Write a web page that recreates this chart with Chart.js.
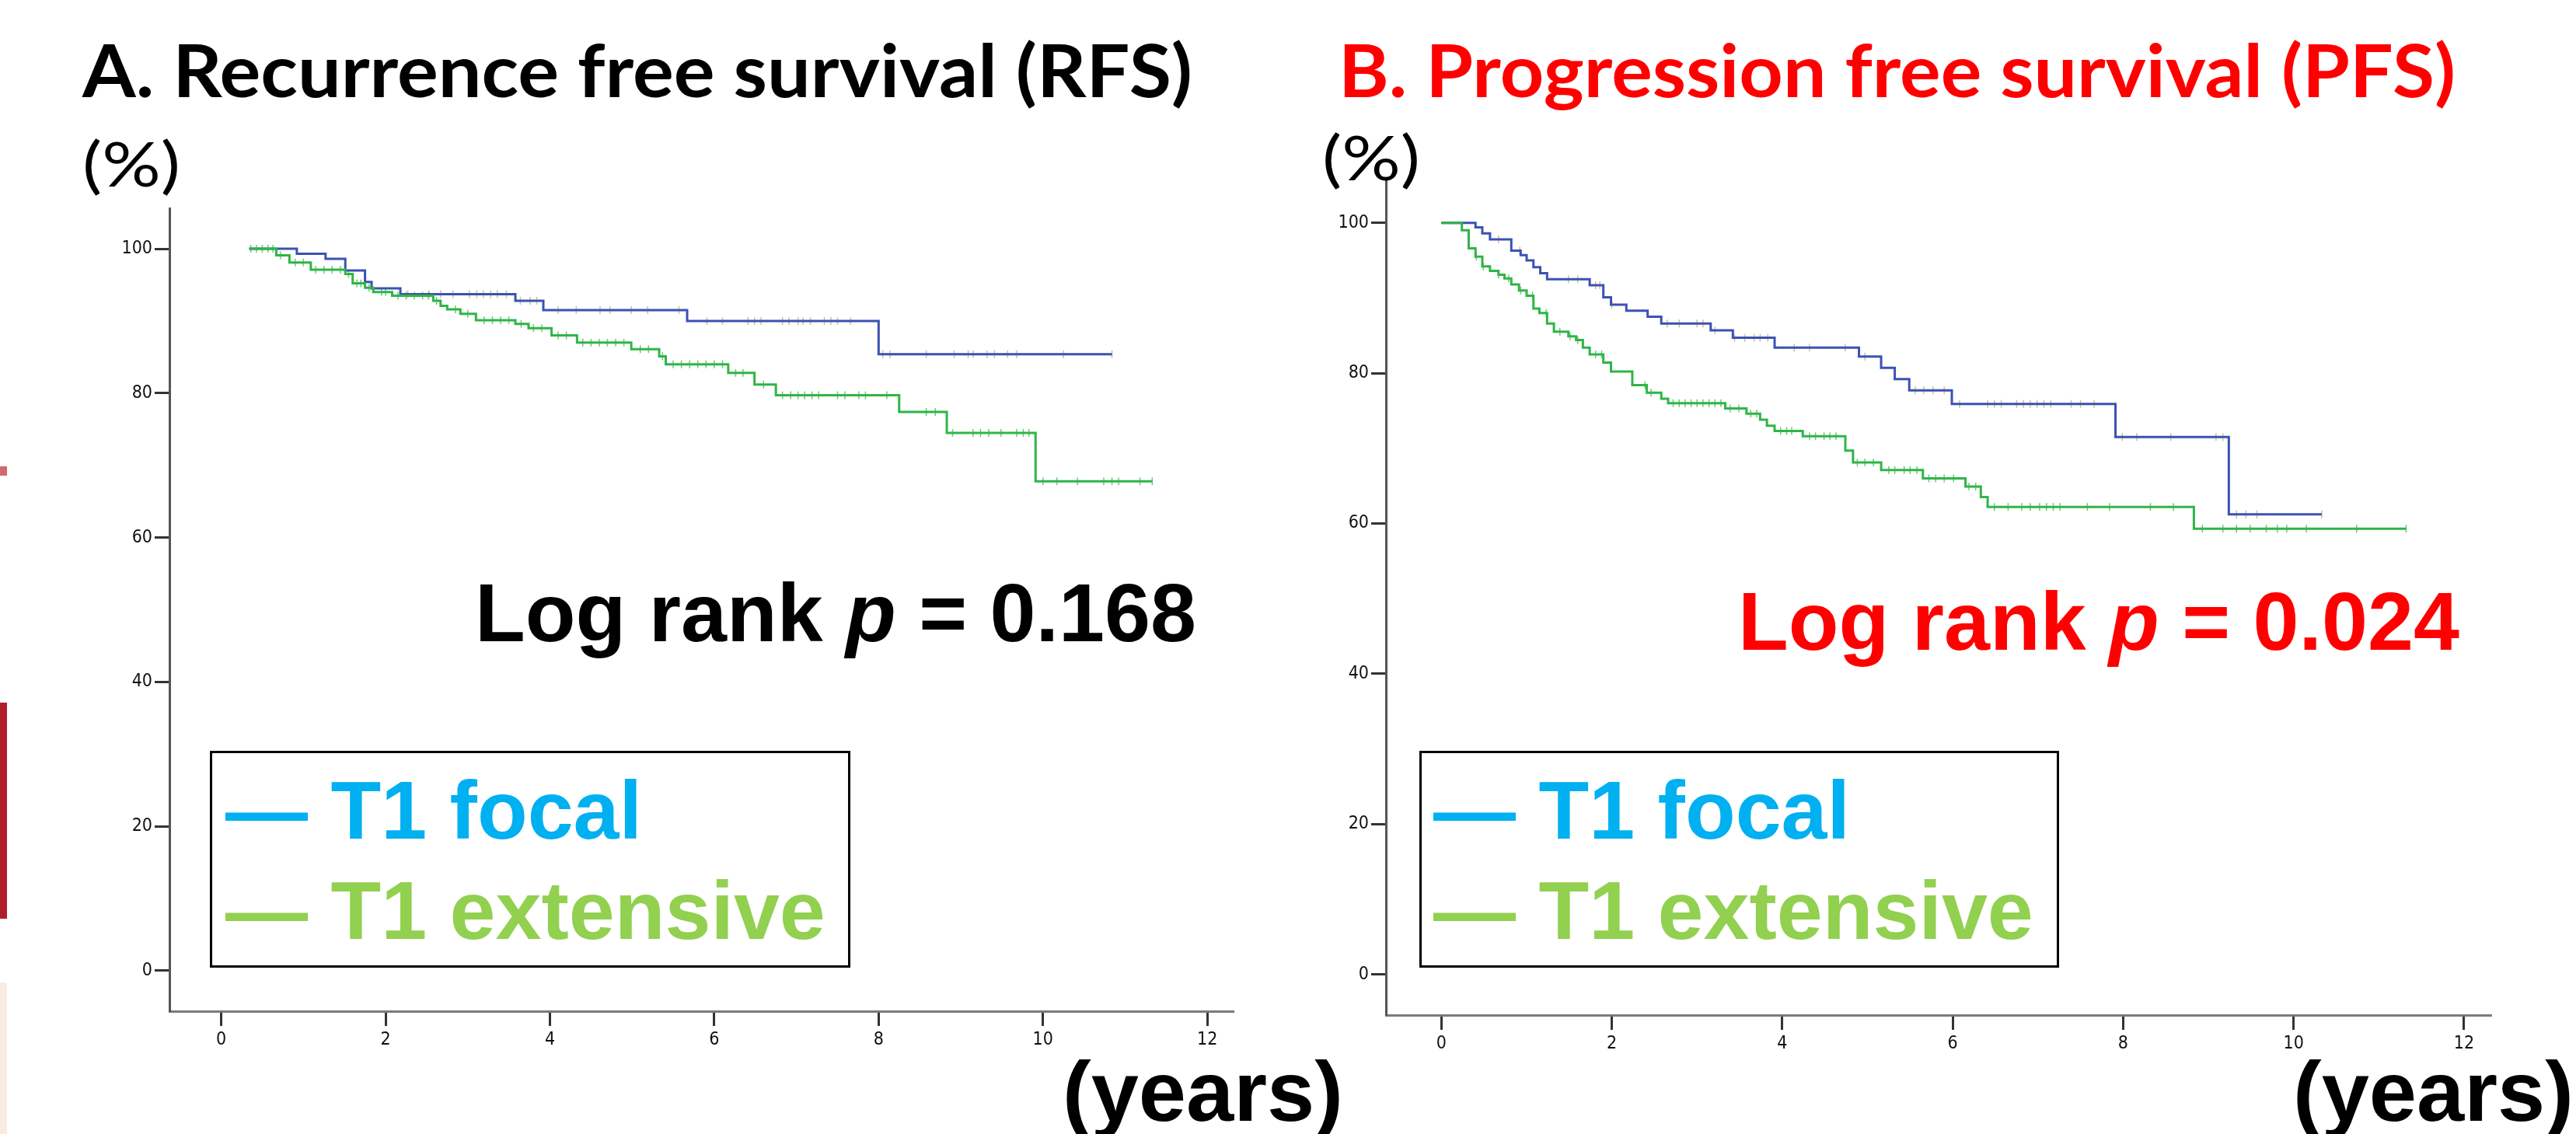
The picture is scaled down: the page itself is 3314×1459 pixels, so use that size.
<!DOCTYPE html>
<html>
<head>
<meta charset="utf-8">
<title>RFS / PFS by T1 substage</title>
<script src="https://cdn.jsdelivr.net/npm/chart.js@4.4.1/dist/chart.umd.min.js"></script>
<style>
  html, body { margin: 0; padding: 0; background: #fff; overflow: hidden; }
  #page { position: relative; width: 3314px; height: 1459px; overflow: hidden; background: #fff; }
  canvas { position: absolute; top: 150px; }
  .txt { position: absolute; white-space: nowrap; line-height: 1; transform-origin: 0 0; }
  .title { font-family: Lato, 'Open Sans', sans-serif; font-weight: 700; font-size: 94px; }
  .pct { font-family: Lato, 'Open Sans', sans-serif; font-weight: 400; font-size: 80px; }
  .arial { font-family: 'Liberation Sans', Arial, sans-serif; font-weight: 700; font-size: 106px; }
  .years { font-family: 'Liberation Sans', Arial, sans-serif; font-weight: 700; font-size: 110px; }
  .legend { position: absolute; border: 3px solid #000; box-sizing: border-box; background: #fff; }
  .strip { position: absolute; left: 0; width: 9px; }
</style>
</head>
<body>
<div id="page">
  <div class="strip" style="top:600px;height:12px;background:#d4686f"></div>
  <div class="strip" style="top:904px;height:278px;background:#b01e2b"></div>
  <div class="strip" style="top:1264px;height:195px;background:#faebe2"></div>

  <canvas id="chartA" width="1657" height="1250" style="left:0px"></canvas>
  <canvas id="chartB" width="1657" height="1250" style="left:1657px"></canvas>

  <div class="legend" style="left:270px;top:966px;width:824px;height:279px"></div>
  <div class="legend" style="left:1826px;top:966px;width:823px;height:279px"></div>
</div>

<script>
// 軸の目盛り
const yearTicks = [0, 2, 4, 6, 8, 10, 12];
const pctTicks = [0, 20, 40, 60, 80, 100];

// A. RFS - T1 focal (時間: 年, 生存率: %)
const rfsFocalTime = [0.34, 0.92, 1.27, 1.51, 1.75, 1.83, 2.18, 3.58, 3.92, 5.67, 8.00, 10.84];
const rfsFocalSurv = [100, 99.3, 98.6, 97.0, 95.4, 94.5, 93.7, 92.8, 91.5, 90.0, 85.4, 85.4];
const rfsFocalCens = [2.27, 2.53, 2.67, 2.82, 3.02, 3.11, 3.19, 3.28, 3.36, 3.47, 3.64, 3.76, 3.84,
  4.10, 4.32, 4.61, 4.73, 4.99, 5.19, 5.57, 5.91, 6.10, 6.41, 6.49, 6.57, 6.83, 6.91, 7.02, 7.08,
  7.17, 7.34, 7.42, 7.50, 7.66, 8.05, 8.14, 8.58, 8.92, 9.09, 9.15, 9.32, 9.41, 9.57, 9.68, 10.25, 10.84];

// A. RFS - T1 extensive
const rfsExtTime = [0.34, 0.67, 0.83, 1.09, 1.51, 1.60, 1.75, 1.85, 2.08, 2.58, 2.67, 2.75, 2.91, 3.10,
  3.58, 3.74, 4.02, 4.33, 4.99, 5.33, 5.41, 6.17, 6.49, 6.75, 8.25, 8.83, 9.91, 11.33];
const rfsExtSurv = [100, 99.1, 98.1, 97.1, 96.5, 95.2, 94.6, 94.0, 93.5, 92.8, 92.1, 91.6, 91.0, 90.1,
  89.6, 89.0, 88.0, 87.0, 86.1, 85.1, 84.0, 82.8, 81.2, 79.7, 77.4, 74.5, 67.8, 67.8];
const rfsExtCens = [0.36, 0.43, 0.50, 0.57, 0.63, 0.72, 0.90, 1.00, 1.15, 1.25, 1.35, 1.45, 1.55, 1.65,
  1.70, 1.80, 1.95, 2.00, 2.15, 2.25, 2.35, 2.45, 2.52, 2.62, 2.85, 3.00, 3.20, 3.30, 3.40, 3.50, 3.65,
  3.80, 3.90, 4.10, 4.20, 4.40, 4.50, 4.60, 4.70, 4.80, 4.90, 5.10, 5.20, 5.37, 5.50, 5.60, 5.70, 5.80,
  5.90, 6.00, 6.10, 6.26, 6.35, 6.60, 6.83, 6.93, 7.02, 7.10, 7.19, 7.27, 7.50, 7.59, 7.76, 7.84, 8.10,
  8.58, 8.69, 8.90, 9.15, 9.24, 9.34, 9.49, 9.68, 9.76, 9.83, 10.00, 10.17, 10.42, 10.74, 10.84, 10.92,
  11.18, 11.33];

// B. PFS - T1 focal
const pfsFocalTime = [0, 0.40, 0.48, 0.57, 0.82, 0.93, 1.00, 1.08, 1.16, 1.24, 1.74, 1.90, 1.99, 2.17,
  2.42, 2.58, 3.16, 3.42, 3.91, 4.90, 5.16, 5.32, 5.49, 5.99, 7.91, 9.24, 10.33];
const pfsFocalSurv = [100, 99.4, 98.6, 97.8, 96.3, 95.7, 95.0, 94.1, 93.3, 92.5, 91.7, 90.1, 89.1, 88.3,
  87.5, 86.6, 85.7, 84.7, 83.4, 82.2, 80.7, 79.2, 77.7, 75.9, 71.5, 61.2, 61.2];
const pfsFocalCens = [0.67, 0.92, 1.49, 1.60, 1.81, 1.86, 2.00, 2.65, 2.79, 3.00, 3.07, 3.21, 3.44, 3.56,
  3.67, 3.74, 3.83, 4.14, 4.32, 4.74, 4.97, 5.56, 5.66, 5.77, 5.90, 6.08, 6.41, 6.49, 6.57, 6.75, 6.83,
  6.91, 6.99, 7.07, 7.15, 7.39, 7.50, 7.66, 7.99, 8.16, 8.56, 9.09, 9.17, 9.33, 9.44, 9.57, 10.33];

// B. PFS - T1 extensive
const pfsExtTime = [0, 0.24, 0.32, 0.40, 0.48, 0.57, 0.67, 0.74, 0.82, 0.91, 1.00, 1.08, 1.15, 1.24, 1.32,
  1.49, 1.58, 1.66, 1.74, 1.90, 1.99, 2.24, 2.41, 2.58, 2.66, 3.33, 3.58, 3.74, 3.82, 3.91, 4.24, 4.74,
  4.83, 5.16, 5.65, 6.15, 6.33, 6.41, 8.83, 11.32];
const pfsExtSurv = [100, 99.0, 96.6, 95.5, 94.2, 93.6, 93.1, 92.6, 91.8, 91.0, 90.3, 88.6, 88.0, 86.6, 85.5,
  84.9, 84.4, 83.4, 82.5, 81.4, 80.2, 78.4, 77.4, 76.6, 76.0, 75.3, 74.6, 73.8, 73.0, 72.3, 71.6, 69.7,
  68.1, 67.1, 66.0, 64.9, 63.5, 62.2, 59.3, 59.3];
const pfsExtCens = [0.41, 0.49, 0.67, 0.79, 0.93, 1.07, 1.23, 1.39, 1.51, 1.60, 1.81, 1.88, 2.39, 2.46,
  2.72, 2.79, 2.86, 2.93, 3.00, 3.07, 3.14, 3.21, 3.28, 3.39, 3.49, 3.63, 3.70, 3.98, 4.05, 4.11, 4.32,
  4.39, 4.49, 4.56, 4.63, 4.88, 4.97, 5.07, 5.25, 5.32, 5.43, 5.50, 5.58, 5.72, 5.80, 5.90, 6.01, 6.19,
  6.27, 6.49, 6.65, 6.81, 6.91, 7.02, 7.10, 7.18, 7.26, 7.58, 7.84, 8.32, 8.59, 8.93, 9.17, 9.33, 9.49,
  9.68, 9.81, 9.92, 10.15, 10.74, 11.32];

const focalColor = '#3b52b4';
const extColor = '#2fb548';
const focalCensColor = 'rgba(190, 170, 100, 0.75)';
const extCensColor = 'rgba(70, 190, 80, 0.8)';

// 打ち切り時点での生存率（階段関数の値を参照）
function survAt(times, surv, t) {
    let v = surv[0];
    for (let i = 0; i < times.length; i++) {
        if (times[i] <= t + 1e-9) v = surv[i];
    }
    return v;
}

function curve(times, surv, color, order) {
    return {
        data: times.map((t, i) => ({ x: t, y: surv[i] })),
        showLine: true,
        stepped: true,
        borderColor: color,
        borderWidth: 3,
        pointRadius: 0,
        order: order
    };
}

function censors(cens, times, surv, color, order) {
    return {
        data: cens.map(t => ({ x: t, y: survAt(times, surv, t) })),
        showLine: false,
        pointStyle: 'line',
        pointRotation: 90,
        pointRadius: 5,
        pointBorderColor: color,
        pointBorderWidth: 1.5,
        order: order
    };
}

function makeChart(id, cfg) {
    const tickFont = { family: "'DejaVu Sans Condensed', 'Liberation Sans Narrow', 'DejaVu Sans', sans-serif", size: 23 };
    return new Chart(document.getElementById(id), {
        type: 'scatter',
        data: {
            datasets: [
                curve(cfg.extT, cfg.extS, extColor, 0),
                curve(cfg.focT, cfg.focS, focalColor, 1),
                censors(cfg.extC, cfg.extT, cfg.extS, extCensColor, 2),
                censors(cfg.focC, cfg.focT, cfg.focS, focalCensColor, 3)
            ]
        },
        options: {
            responsive: false,
            animation: false,
            devicePixelRatio: 1,
            layout: { padding: cfg.padding },
            plugins: { legend: { display: false }, tooltip: { enabled: false } },
            scales: {
                x: {
                    type: 'linear',
                    min: cfg.xMin,
                    max: cfg.xMax,
                    afterBuildTicks: s => { s.ticks = yearTicks.map(v => ({ value: v })); },
                    afterFit: s => { s.height = 60; },
                    grid: { drawOnChartArea: false, drawTicks: true, tickLength: 19, tickWidth: 3, tickColor: '#333' },
                    border: { display: true, color: '#7a7a7a', width: 3 },
                    ticks: { font: tickFont, color: '#111', padding: 4, maxRotation: 0, autoSkip: false }
                },
                y: {
                    type: 'linear',
                    min: cfg.yMin,
                    max: cfg.yMax,
                    afterBuildTicks: s => { s.ticks = pctTicks.map(v => ({ value: v })); },
                    afterFit: s => { s.width = 100; },
                    grid: { drawOnChartArea: false, drawTicks: true, tickLength: 19, tickWidth: 3, tickColor: '#333' },
                    border: { display: true, color: '#555', width: 3 },
                    ticks: { font: tickFont, color: '#111', padding: 3, autoSkip: false }
                }
            }
        }
    });
}

makeChart('chartA', {
    focT: rfsFocalTime, focS: rfsFocalSurv, focC: rfsFocalCens,
    extT: rfsExtTime, extS: rfsExtSurv, extC: rfsExtCens,
    xMin: -0.63, xMax: 12.32, yMin: -5.6, yMax: 105.6,
    padding: { left: 118, top: 118, right: 70, bottom: 39 }
});

makeChart('chartB', {
    focT: pfsFocalTime, focS: pfsFocalSurv, focC: pfsFocalCens,
    extT: pfsExtTime, extS: pfsExtSurv, extC: pfsExtCens,
    xMin: -0.651, xMax: 12.32, yMin: -5.42, yMax: 105.55,
    padding: { left: 26, top: 83, right: 109, bottom: 34 }
});

// 文字（左端 x, ベースライン y, 幅を合わせる場合は w）
const texts = [
    { html: 'A. Recurrence free survival (RFS)', cls: 'title', x: 106, base: 125, w: 1428, color: '#000' },
    { html: 'B. Progression free survival (PFS)', cls: 'title', x: 1722, base: 125, w: 1437, color: '#ff0000' },
    { html: '(%)', cls: 'pct', x: 106, base: 240, w: 126, color: '#000' },
    { html: '(%)', cls: 'pct', x: 1701, base: 232, w: 126, color: '#000' },
    { html: 'Log rank <i>p</i> = 0.168', cls: 'arial', x: 611, base: 825, color: '#000' },
    { html: 'Log rank <i>p</i> = 0.024', cls: 'arial', x: 2236, base: 836, color: '#ff0000' },
    { html: '\u2014 T1 focal', cls: 'arial', x: 290, base: 1079, color: '#00b0f0' },
    { html: '\u2014 T1 extensive', cls: 'arial', x: 290, base: 1208, color: '#92d050' },
    { html: '\u2014 T1 focal', cls: 'arial', x: 1844, base: 1079, color: '#00b0f0' },
    { html: '\u2014 T1 extensive', cls: 'arial', x: 1844, base: 1208, color: '#92d050' },
    { html: '(years)', cls: 'years', x: 1367, base: 1442, color: '#000' },
    { html: '(years)', cls: 'years', x: 2950, base: 1442, color: '#000' }
];

function placeTexts() {
    const page = document.getElementById('page');
    texts.forEach(t => {
        const el = document.createElement('div');
        el.className = 'txt ' + t.cls;
        el.style.color = t.color;
        el.style.left = t.x + 'px';
        el.style.top = '0px';
        el.innerHTML = t.html;
        const mk = document.createElement('span');
        mk.style.cssText = 'display:inline-block;width:0;height:0;vertical-align:baseline';
        el.appendChild(mk);
        page.appendChild(el);
        el.style.top = (t.base - mk.offsetTop) + 'px';
        if (t.w) {
            const natural = el.getBoundingClientRect().width;
            el.style.transform = 'scaleX(' + (t.w / natural) + ')';
        }
    });
}

if (document.fonts && document.fonts.ready) {
    document.fonts.ready.then(placeTexts);
} else {
    placeTexts();
}
</script>
</body>
</html>
